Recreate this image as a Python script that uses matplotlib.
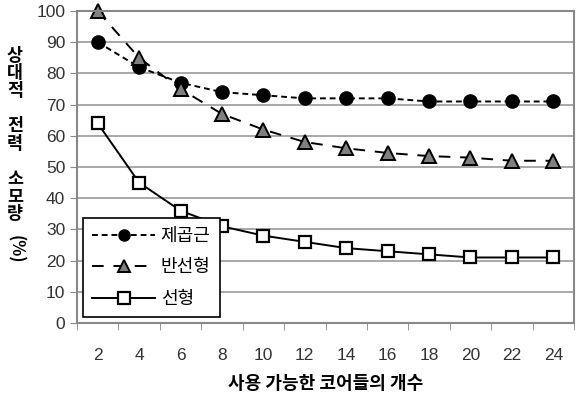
import matplotlib
matplotlib.use('Agg')
import matplotlib.pyplot as plt
import numpy as np

plt.rcParams['font.family'] = ['Noto Sans CJK KR', 'DejaVu Sans']

cores = [2, 4, 6, 8, 10, 12, 14, 16, 18, 20, 22, 24]
sqrt_vals = [90, 82, 77, 74, 73, 72, 72, 72, 71, 71, 71, 71]
semi_vals = [100, 85, 75, 67, 62, 58, 56, 54.5, 53.5, 53, 52, 52]
linear_vals = [64, 45, 36, 31, 28, 26, 24, 23, 22, 21, 21, 21]
names = ['제곱근', '반선형', '선형']

fig = plt.figure(figsize=(5.79, 4.05), dpi=100)
ax = fig.add_axes([77 / 579, 82 / 405, 497 / 579, 312 / 405])

x = np.arange(len(cores))
ax.plot(x, sqrt_vals, color='black', linestyle=(0, (3, 2)), linewidth=1.4,
        marker='o', markersize=9.5, markerfacecolor='black', label=names[0], clip_on=False)
ax.plot(x, semi_vals, color='black', linestyle=(0, (6, 5)), linewidth=1.4,
        marker='^', markersize=10, markerfacecolor='#808080', markeredgecolor='black',
        markeredgewidth=1.4, label=names[1], clip_on=False)
ax.plot(x, linear_vals, color='black', linestyle='-', linewidth=1.4,
        marker='s', markersize=9, markerfacecolor='white', markeredgecolor='black',
        markeredgewidth=1.6, label=names[2], clip_on=False)

ax.set_xlim(-0.5, len(cores) - 0.5)
ax.set_ylim(0, 100)
ax.set_yticks(range(0, 101, 10))
ax.yaxis.grid(True, color='#999999', linewidth=1.2)
ax.set_axisbelow(True)

ax.set_xticks(x)
ax.set_xticklabels([str(c) for c in cores], family='Liberation Sans', fontsize=12.5, color='#333333')
ax.set_xticks(np.arange(-0.5, len(cores)), minor=True)
ax.tick_params(axis='x', which='major', length=0, pad=18)
ax.tick_params(axis='x', which='minor', length=5, color='#888888', direction='out')
ax.tick_params(axis='y', length=5, color='#888888', labelsize=12.5, labelcolor='#333333')
for lab in ax.get_yticklabels():
    lab.set_family('Liberation Sans')

for side in ['top', 'right', 'left', 'bottom']:
    ax.spines[side].set_color('#888888')
    ax.spines[side].set_linewidth(1.5)

ax.set_xlabel('사용 가능한 코어들의 개수', fontsize=13, fontweight='bold', labelpad=8)

ylabel = '상\n대\n적\n\n전\n력\n\n소\n모\n량'
fig.text(15 / 579, 1 - 135 / 405, ylabel, ha='center', va='center', fontsize=12.5,
         fontweight='bold', linespacing=0.97)
fig.text(15 / 579, 1 - 249 / 405, '(%)', ha='center', va='center', fontsize=12,
         fontweight='bold', rotation=-90)

leg = ax.legend(loc='lower left', bbox_to_anchor=(6 / 497, 6 / 312), fontsize=13,
                frameon=True, fancybox=False, edgecolor='black', framealpha=1,
                handlelength=3.5, handletextpad=0.3, borderpad=0.5, labelspacing=0.75,
                borderaxespad=0)
leg.get_frame().set_linewidth(1.2)
for h in leg.legend_handles:
    h.set_markersize(8)

fig.savefig('out.png', dpi=100)
